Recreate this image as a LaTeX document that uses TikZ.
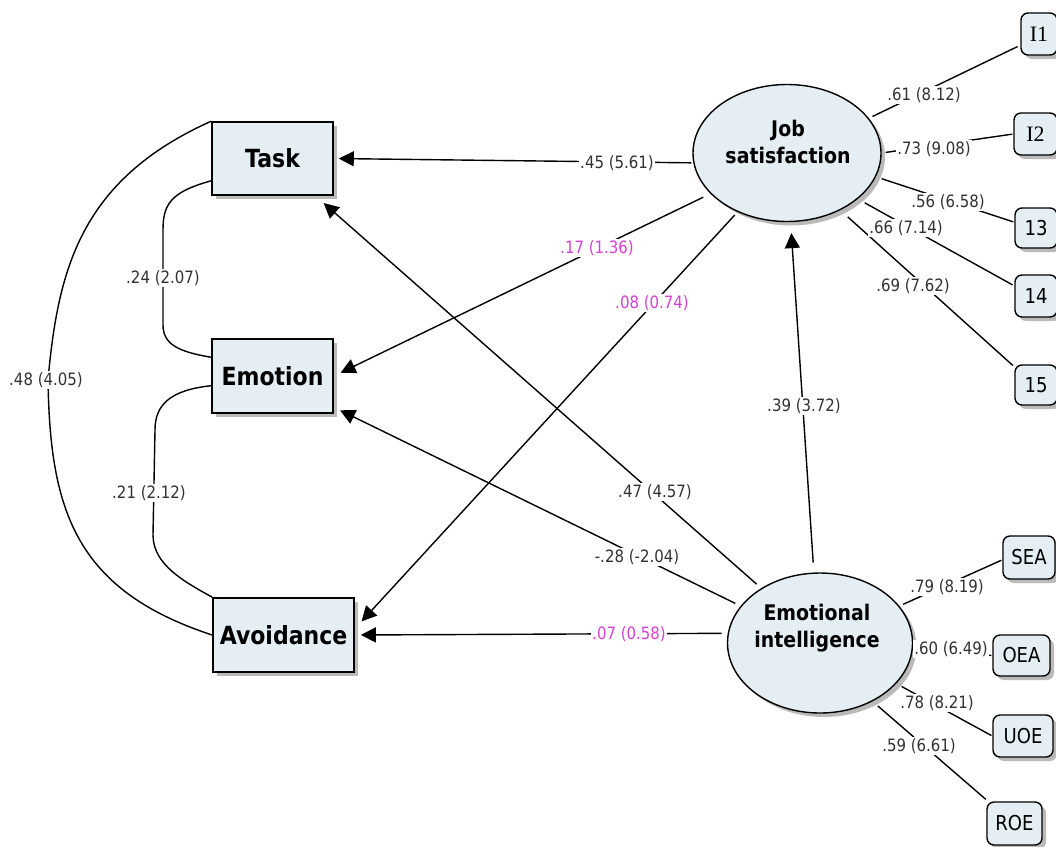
\documentclass[tikz,border=0pt]{standalone}
\usepackage{fontspec}
\setmainfont{DejaVu Sans}[FakeStretch=0.88]
\newfontfamily\serifI{Liberation Serif}
\usetikzlibrary{arrows.meta,shapes.geometric,shadows}
\definecolor{boxfill}{RGB}{229,238,243}
\definecolor{lblgray}{RGB}{50,50,50}
\definecolor{mag}{RGB}{214,64,214}
\begin{document}
\begin{tikzpicture}[x=1pt,y=-1pt,
  shade/.style={drop shadow={shadow xshift=4pt,shadow yshift=-4pt,fill=black!45,opacity=.6}},
  obs/.style={draw=black,line width=1.6pt,fill=boxfill,minimum height=73pt,inner sep=0pt,
    font=\fontsize{25}{30}\selectfont\bfseries,shade},
  latent/.style={ellipse,draw=black,line width=1.4pt,fill=boxfill,inner sep=0pt,shade},
  lattext/.style={align=center,font=\fontsize{21.5}{27}\selectfont\bfseries,inner sep=0pt},
  ind/.style={draw=black,rounded corners=7pt,line width=1.4pt,fill=boxfill,inner sep=0pt,
    font=\fontsize{20.5}{24}\selectfont,shade},
  lbl/.style={fill=white,inner sep=1.5pt,text=lblgray,font=\fontsize{17}{20}\selectfont},
  mlbl/.style={lbl,text=mag},
  reg/.style={line width=1.4pt,-{Triangle[length=15pt,width=15pt]}},
  cov/.style={line width=1.4pt},
  load/.style={line width=1.4pt}]
\useasboundingbox (0,0) rectangle (1056,846);

% observed outcome boxes
\node[obs,minimum width=121pt] (task) at (272.5,158.5) {Task};
\node[obs,minimum width=121pt,minimum height=74pt] (emotion) at (272.5,376) {Emotion};
\node[obs,minimum width=141pt,minimum height=74pt] (avoid) at (283.5,635) {Avoidance};

% latent variables
\node[latent,minimum width=188pt,minimum height=137pt] (js) at (787,153) {};
\node[lattext] (jst) at (788,142) {Job\\satisfaction};
\node[latent,minimum width=185pt,minimum height=140pt] (ei) at (820,643) {};
\node[lattext] (eit) at (817,628) {Emotional\\intelligence};

% indicators
\node[ind,minimum width=36pt,minimum height=42pt,font=\fontsize{22}{24}\serifI] (i1) at (1039,34) {I1};
\node[ind,minimum width=43pt,minimum height=42pt,font=\fontsize{22}{24}\serifI] (i2) at (1035.5,134) {I2};
\node[ind,minimum width=42pt,minimum height=40pt] (b13) at (1036,228) {13};
\node[ind,minimum width=42pt,minimum height=42pt] (b14) at (1036,296) {14};
\node[ind,minimum width=42pt,minimum height=40pt] (b15) at (1036,385) {15};
\node[ind,minimum width=52pt,minimum height=43pt] (sea) at (1029,557.5) {SEA};
\node[ind,minimum width=57pt,minimum height=41pt] (oea) at (1021.5,655.5) {OEA};
\node[ind,minimum width=60pt,minimum height=42pt] (uoe) at (1023,736) {UOE};
\node[ind,minimum width=55pt,minimum height=43pt] (roe) at (1014.5,823.5) {ROE};

% covariances
\draw[cov] (task.north west) .. controls (80,180) and (58,270) .. (48,380)
  .. controls (50,510) and (75,590) .. (avoid.west);
\draw[cov] (task.200) .. controls (170,192) and (163,205) .. (163,230) -- (163,325)
  .. controls (163,345) and (180,352) .. (emotion.163);
\draw[cov] (emotion.189) .. controls (170,390) and (155,405) .. (155,430) -- (153,535)
  .. controls (153,565) and (185,582) .. (avoid.north west);

% structural paths
\draw[reg,shorten <=2pt,shorten >=5pt] (js.186) -- (task.east);
\draw[reg,shorten <=8pt,shorten >=7.5pt] (js.-152) -- (emotion.east);
\draw[reg,shorten <=4pt,shorten >=10pt] (js.-130) -- (avoid.5);
\draw[reg,shorten <=10pt,shorten >=11pt] (ei.95) -- (js.-87);
\draw[reg,shorten <=6pt,shorten >=11pt] (ei.137) -- (task.-41);
\draw[reg,shorten <=6pt,shorten >=7pt] (ei.155) -- (emotion.-27);
\draw[reg,shorten <=6pt,shorten >=6pt] (ei.174) -- (avoid.east);

% loadings
\draw[load,shorten <=4pt,shorten >=3pt] (js.23) -- (i1.-149);
\draw[load,shorten <=4pt,shorten >=1pt] (js.east) -- (i2.west);
\draw[load,shorten <=6pt,shorten >=1pt] (js.-15) -- (b13.165);
\draw[load,shorten <=8pt,shorten >=2pt] (js.-33) -- (b14.155);
\draw[load,shorten <=10pt,shorten >=2pt] (js.-47) -- (b15.140);
\draw[load,shorten <=4pt,shorten >=1pt] (ei.25) -- (sea.-175);
\draw[load,shorten <=1pt,shorten >=1pt] (ei.-3) -- (oea.west);
\draw[load,shorten <=6pt,shorten >=1pt] (ei.-28) -- (uoe.west);
\draw[load,shorten <=7pt,shorten >=3pt] (ei.-48) -- (roe.140);

% labels
\node[lbl] (c48) at (46,380) {.48 (4.05)};
\node[lbl] (c24) at (163,278) {.24 (2.07)};
\node[lbl] (c21) at (149,493) {.21 (2.12)};
\node[lbl] (p45) at (617,163) {.45 (5.61)};
\node[mlbl] (p17) at (597,248) {.17 (1.36)};
\node[mlbl] (p08) at (652,303) {.08 (0.74)};
\node[lbl] (p39) at (804,406) {.39 (3.72)};
\node[lbl] (p47) at (655,492) {.47 (4.57)};
\node[lbl] (p28) at (637,557) {-.28 (-2.04)};
\node[mlbl] (p07) at (629,634) {.07 (0.58)};
\node[lbl] (l61) at (924,95) {.61 (8.12)};
\node[lbl] (l73) at (934,149) {.73 (9.08)};
\node[lbl] (l56) at (948,202) {.56 (6.58)};
\node[lbl] (l66) at (906,228) {.66 (7.14)};
\node[lbl] (l69) at (913,286) {.69 (7.62)};
\node[lbl] (l79) at (947,587) {.79 (8.19)};
\node[lbl] (l60) at (951,649) {.60 (6.49)};
\node[lbl] (l78) at (937,703) {.78 (8.21)};
\node[lbl] (l59) at (919,746) {.59 (6.61)};
\end{tikzpicture}
\end{document}
